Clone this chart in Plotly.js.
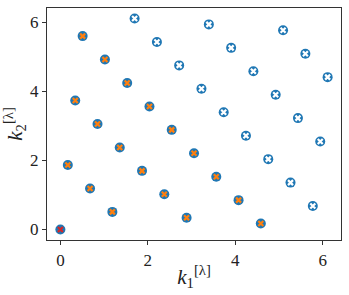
<!DOCTYPE html>
<html>
<head>
<meta charset="utf-8">
<script src="https://cdn.plot.ly/plotly-3.0.1.min.js"></script>
<style>html,body{margin:0;padding:0;background:#fff;}#chart{width:349px;height:295px;}</style>
</head>
<body>
<div id="chart"></div>
<script>
// all lattice points (blue circles)
var allX = [0.000,0.170,0.340,0.509,0.679,0.849,1.019,1.189,1.358,1.528,1.698,1.868,2.038,2.208,2.377,2.547,2.717,2.887,3.057,3.227,3.396,3.566,3.736,3.906,4.076,4.245,4.415,4.585,4.755,4.925,5.094,5.264,5.434,5.604,5.774,5.944,6.113];
var allY = [0.000,1.868,3.736,5.604,1.189,3.057,4.925,0.509,2.377,4.245,6.113,1.698,3.566,5.434,1.019,2.887,4.755,0.340,2.208,4.076,5.944,1.528,3.396,5.264,0.849,2.717,4.585,0.170,2.038,3.906,5.774,1.358,3.227,5.094,0.679,2.547,4.415];
// orange-cross points
var orangeX = [0.170,0.340,0.509,0.679,0.849,1.019,1.189,1.358,1.528,1.868,2.038,2.377,2.547,2.887,3.057,3.566,4.076,4.585];
var orangeY = [1.868,3.736,5.604,1.189,3.057,4.925,0.509,2.377,4.245,1.698,3.566,1.019,2.887,0.340,2.208,1.528,0.849,0.170];
// white-cross points
var whiteX = [1.698,2.208,2.717,3.227,3.396,3.736,3.906,4.245,4.415,4.755,4.925,5.094,5.264,5.434,5.604,5.774,5.944,6.113];
var whiteY = [6.113,5.434,4.755,4.076,5.944,3.396,5.264,2.717,4.585,2.038,3.906,5.774,1.358,3.227,5.094,0.679,2.547,4.415];
// origin
var redX = [0];
var redY = [0];
var tickVals = [0,2,4,6];

var FONT = 'Liberation Serif';

var traces = [
  {x: allX, y: allY, mode: 'markers', type: 'scatter', marker: {color: '#1f77b4', size: 10, line: {width: 0}}},
  {x: orangeX, y: orangeY, mode: 'markers', type: 'scatter', marker: {symbol: 'x-thin-open', color: '#ff7f0e', size: 5, line: {width: 2.2, color: '#ff7f0e'}}},
  {x: whiteX, y: whiteY, mode: 'markers', type: 'scatter', marker: {symbol: 'x-thin-open', color: '#ffffff', size: 5, line: {width: 2.2, color: '#ffffff'}}},
  {x: redX, y: redY, mode: 'markers', type: 'scatter', marker: {symbol: 'x-thin-open', color: '#d62728', size: 5, line: {width: 2.2, color: '#d62728'}}}
];

var axisCommon = {
  range: [-0.306, 6.419],
  tickmode: 'array',
  tickvals: tickVals,
  ticks: 'outside', ticklen: 4, tickwidth: 1, tickcolor: '#333',
  showline: true, linecolor: '#333', linewidth: 1.2, mirror: true,
  showgrid: false, zeroline: false,
  tickfont: {family: FONT, size: 17, color: '#222'}
};

var layout = {
  width: 349, height: 295,
  margin: {l: 47, r: 8, t: 8, b: 55},
  paper_bgcolor: '#fff', plot_bgcolor: '#fff',
  font: {family: FONT},
  showlegend: false,
  xaxis: Object.assign({}, axisCommon, {
    title: {text: '<i>k</i><sub>1</sub><sup>[λ]</sup>', font: {family: FONT, size: 21, color: '#222'}, standoff: 0}
  }),
  yaxis: Object.assign({}, axisCommon, {
    title: {text: '<i>k</i><sub>2</sub><sup>[λ]</sup>', font: {family: FONT, size: 21, color: '#222'}, standoff: 4}
  })
};

Plotly.newPlot('chart', traces, layout, {displayModeBar: false});
</script>
</body>
</html>
